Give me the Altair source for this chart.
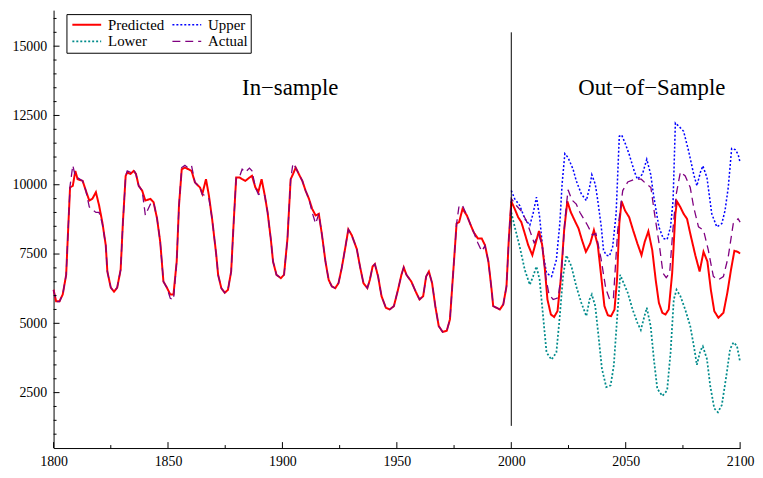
import altair as alt
import pandas as pd

# ---------------- data ----------------
in_years = [1800, 1801.1, 1802.6, 1804, 1805.5, 1806.2, 1807.2, 1808.4, 1809.5, 1810.5,
            1812.7, 1814.1, 1815.6, 1817, 1818.5, 1819.9, 1821.3, 1822.8, 1823.5, 1825,
            1826.4, 1827.8, 1829.3, 1830.3, 1831.5, 1832.2, 1833.6, 1835, 1836, 1837.2,
            1838.7, 1840.1, 1842.3, 1843.7, 1845.2, 1846.6, 1848, 1849.5, 1851, 1852.4,
            1853.8, 1854.8, 1856, 1857.4, 1858.9, 1860.3, 1861.8, 1864, 1865, 1866.6,
            1867.9, 1869.3, 1871.1, 1871.9, 1873.3, 1874.8, 1876.2, 1877.6, 1878.7, 1879.8,
            1881.3, 1882.4, 1883.8, 1885.6, 1886.7, 1888.2, 1889.5, 1890.9, 1892.3, 1893.5,
            1894.9, 1895.9, 1897.4, 1899.3, 1900.7, 1902.2, 1903.6, 1904.6, 1905.8, 1907.2,
            1908.7, 1910.1, 1911.6, 1913, 1914.5, 1915.9, 1917.3, 1918.8, 1920.2, 1921.6,
            1923.1, 1924.5, 1925.9, 1927.4, 1928.8, 1930.3, 1932.5, 1933.9, 1935.4, 1937.1,
            1938.2, 1939.4, 1940.4, 1941.8, 1943.3, 1945.2, 1946.9, 1948.7, 1950.5, 1952,
            1953, 1954.2, 1956.3, 1958.2, 1959.9, 1961.5, 1962.8, 1964, 1965.4, 1966.8,
            1968.3, 1970, 1971.8, 1973.2, 1974.6, 1976.1, 1977.2, 1978.7, 1980.6, 1982,
            1983.5, 1985.4, 1987.1, 1988.5, 1990, 1991.4, 1992.1, 1993.6, 1995, 1996.5,
            1997.9, 1998.9]

in_predicted = [6210, 5800, 5800, 6040, 6750, 8070, 9900, 9960, 10500, 10200,
                10140, 9790, 9430, 9500, 9730, 9250, 8650, 7820, 6870, 6290,
                6140, 6290, 6930, 8650, 10320, 10440, 10390, 10500, 10390, 9960,
                9790, 9430, 9490, 9370, 8790, 7940, 6510, 6290, 6040, 6040,
                7230, 9250, 10560, 10620, 10560, 10500, 10080, 9900, 9670, 10200,
                9600, 8750, 7460, 6750, 6270, 6100, 6210, 6870, 8650, 10260,
                10260, 10200, 10140, 10260, 10320, 9900, 9750, 10200, 9610, 9010,
                8060, 7230, 6750, 6630, 6750, 8060, 10200, 10380, 10620, 10380,
                10140, 9790, 9490, 9130, 8890, 8950, 8180, 7230, 6570, 6330,
                6270, 6450, 6990, 7700, 8390, 8180, 7680, 7050, 6450, 6270,
                6570, 7050, 7140, 6690, 5980, 5560, 5500, 5620, 6210, 6750,
                7020, 6750, 6510, 6150, 5860, 5980, 6690, 6870, 6450, 5620,
                4900, 4690, 4730, 5140, 6810, 8600, 8650, 9130, 8890, 8600,
                8300, 8060, 8060, 7820, 7230, 6210, 5620, 5560, 5500, 5680,
                6330, 8000]

in_actual = [6210, 5780, 5780, 6040, 6750, 8070, 9950, 10700, 10300, 10250,
             10140, 9790, 9200, 9100, 9000, 9000, 8600, 7820, 6870, 6290,
             6140, 6290, 6930, 8650, 10320, 10500, 10450, 10550, 10390, 9960,
             9790, 8900, 9300, 9370, 8790, 7940, 6510, 6290, 5900, 5850,
             7230, 9250, 10620, 10700, 10600, 10680, 10080, 9900, 9650, 9600,
             9500, 8750, 7460, 6750, 6270, 6100, 6210, 6870, 8650, 10260,
             10300, 10560, 10450, 10600, 10500, 9900, 9650, 9700, 9610, 9010,
             8060, 7230, 6750, 6630, 6750, 8060, 10200, 10770, 10620, 10380,
             10140, 9790, 9490, 9000, 8600, 8950, 8180, 7230, 6570, 6330,
             6270, 6450, 6990, 7700, 8390, 8180, 7680, 7050, 6450, 6270,
             6570, 7050, 7140, 6690, 5980, 5560, 5500, 5620, 6210, 6750,
             7020, 6750, 6510, 6150, 5860, 5980, 6690, 6870, 6450, 5620,
             4900, 4690, 4730, 5140, 6810, 8600, 9250, 9250, 8890, 8600,
             8300, 7900, 7600, 7800, 7230, 6210, 5620, 5560, 5500, 5680,
             6330, 8000]

out_pred_years = [2000, 2001.5, 2003, 2004.4, 2005.9, 2007.4, 2009.2, 2010.6, 2012.1, 2013.5,
                  2014.7, 2015.8, 2017.3, 2018.7, 2020.2, 2021.6, 2023.1, 2024.5, 2026, 2027.7,
                  2029.4, 2030.9, 2032.6, 2034.5, 2036.1, 2037.8, 2039.3, 2040.7, 2042.2, 2043.6,
                  2045.1, 2046.2, 2047.2, 2048.2, 2049.7, 2051.5, 2053, 2055.1, 2056.9, 2058.3,
                  2059.9, 2061.6, 2063.1, 2064.5, 2066, 2067.4, 2068.8, 2070.3, 2071.7, 2072.4,
                  2073.9, 2075.3, 2076.8, 2078.2, 2080.4, 2082.3, 2084, 2085.7, 2087.2, 2088.7,
                  2090.5, 2092.7, 2094.4, 2096, 2097.5, 2098.9, 2100]
out_predicted = [9400, 9130, 8830, 8650, 8240, 7820, 7460, 7880, 8330, 7820,
                 6930, 5860, 5320, 5230, 5440, 6570, 8360, 9400, 9010, 8710,
                 8420, 8000, 7580, 7880, 8360, 7820, 6690, 5620, 5290, 5260,
                 5500, 6570, 8600, 9400, 9070, 8830, 8420, 7880, 7460, 7940,
                 8320, 7640, 6570, 5740, 5380, 5320, 5500, 6810, 8950, 9400,
                 9190, 8950, 8770, 8240, 7460, 6870, 7580, 7230, 6210, 5440,
                 5200, 5380, 6100, 6930, 7620, 7580, 7520]

out_act_years = [2000, 2002.2, 2004.4, 2006.6, 2008.3, 2010, 2012, 2013.5, 2015.2, 2016.5,
                 2018.3, 2020.5, 2021.9, 2023.4, 2024.8, 2026.5, 2028.4, 2030, 2031.5, 2033.3,
                 2035.5, 2037, 2039.2, 2041.3, 2043, 2044.6, 2046.5, 2048.7, 2050.9, 2053.9,
                 2056.8, 2058.3, 2061, 2062.6, 2064.8, 2066.3, 2067.7, 2069.2, 2070.6, 2072.1,
                 2073.9, 2076, 2078.2, 2079.7, 2081.8, 2084, 2086.1, 2088.3, 2090.5, 2092.7,
                 2094.8, 2097, 2099.1, 2100]
out_actual = [9500, 9250, 9050, 8700, 8300, 7900, 8200, 7800, 6600, 6040,
              5860, 5920, 6810, 8710, 9820, 9450, 9300, 9000, 8790, 8540,
              8180, 8240, 7340, 6250, 5860, 5880, 8360, 9790, 10100, 10200,
              10200, 10080, 9900, 8950, 7760, 6810, 6650, 6810, 8360, 9670,
              10460, 10320, 9900, 9190, 8480, 8360, 7640, 6690, 6570, 6690,
              7400, 8600, 8770, 8650]

upper_years = [2000, 2001.5, 2003.7, 2005.1, 2005.9, 2008.1, 2009.5, 2011, 2012.4, 2013.9,
               2015.4, 2017.6, 2019.7, 2021.2, 2022.2, 2023.4, 2024.8, 2027, 2028.4, 2030.6,
               2032.8, 2034.2, 2035.2, 2036.7, 2037.8, 2039.3, 2040.3, 2041.5, 2042.9, 2044.3,
               2045.8, 2047.2, 2048.2, 2049.7, 2051.5, 2053.7, 2055.1, 2057.3, 2059.2, 2060.9,
               2062.3, 2064.5, 2066.4, 2068.1, 2069.6, 2070.7, 2071.7, 2073.2, 2075.3, 2077.5,
               2079.7, 2081.1, 2082.6, 2083.7, 2085.5, 2087.6, 2089.8, 2092, 2093.4, 2094.8,
               2096.3, 2097.8, 2099.1, 2100]
upper = [9790, 9490, 9250, 8950, 8770, 8540, 8950, 9550, 8830, 7530,
         6810, 6690, 7290, 8600, 10020, 11120, 10980, 10560, 10140, 9670,
         9430, 9900, 10360, 10020, 9430, 8500, 7640, 7460, 7430, 7760,
         8950, 11750, 11800, 11510, 11100, 10500, 10200, 10380, 10920, 10380,
         9550, 8480, 8060, 8030, 8480, 9430, 12230, 12110, 11930, 11210,
         10380, 9960, 10440, 10680, 10260, 8950, 8480, 8600, 9070, 9900,
         11310, 11270, 11100, 10800]

lower_years = [2000, 2001.5, 2003.7, 2005.9, 2008.1, 2009.5, 2011, 2012.4, 2013.9, 2015.4,
               2017.6, 2019.7, 2021.2, 2022.6, 2024.1, 2026.3, 2028.4, 2030.6, 2032.8, 2034.2,
               2035.2, 2036.7, 2038.1, 2039.6, 2041.5, 2043.4, 2044.8, 2046.2, 2047.6, 2049.1,
               2050.9, 2053, 2055.1, 2056.6, 2058, 2059.2, 2060.9, 2062.3, 2063.8, 2066,
               2068.1, 2069.6, 2071, 2072.2, 2073.9, 2076, 2078.2, 2080, 2081.1, 2082.6,
               2083.7, 2085.5, 2086.9, 2088.7, 2090.3, 2092, 2094, 2095.6, 2097.1, 2098.6,
               2100]
lower = [9000, 8480, 7760, 6930, 6390, 6690, 7050, 6570, 5260, 3950,
         3690, 3950, 5260, 6690, 7450, 7050, 6330, 5740, 5260, 5860,
         6040, 5620, 4550, 3360, 2700, 2760, 3480, 5140, 6750, 6450,
         6100, 5500, 5020, 4760, 5200, 5560, 4900, 3710, 2640, 2380,
         2580, 3950, 5860, 6210, 5980, 5500, 4900, 4070, 3500, 4010,
         4170, 3710, 2760, 1930, 1790, 2050, 3120, 4070, 4310, 4190,
         3600]

# legend is laid out column by column: Predicted/Lower in column 1, Upper/Actual in column 2
series_names = ["Predicted", "Lower", "Upper", "Actual"]
series_colors = ["#FF0000", "#008B8B", "#0000FF", "#800080"]
series_dash = [[1, 0], [2, 2], [2, 2], [8, 5]]
series_width = [2, 1.3, 1.3, 2.4]
draw_order = ["Lower", "Upper", "Predicted", "Actual"]

x_ticks_major = [1800, 1850, 1900, 1950, 2000, 2050, 2100]
x_ticks_minor = [1825, 1875, 1925, 1975, 2025, 2075]
y_ticks_major = [2500, 5000, 7500, 10000, 12500, 15000]
y_ticks_minor = [v for v in range(1000, 16500, 500) if v % 2500 != 0]

annotations = pd.DataFrame({
    "year": [1903.4, 2061.4],
    "value": [13480, 13480],
    "label": ["In\u2212sample", "Out\u2212of\u2212Sample"],
})
divider = pd.DataFrame({"year": [2000], "lo": [1300], "hi": [15500]})

# ---------------- long table ----------------
rows = []
def add(name, xs, ys):
    for x, y in zip(xs, ys):
        rows.append({"year": x, "value": y, "series": name})

add("Lower", lower_years, lower)
add("Upper", upper_years, upper)
add("Predicted", in_years + out_pred_years, in_predicted + out_predicted)
add("Actual", in_years + out_act_years, in_actual + out_actual)
df = pd.DataFrame(rows)

FONT = "Liberation Serif"
W, H = 693, 442
xscale = alt.Scale(domain=[1800, 2100], nice=False, zero=False)
yscale = alt.Scale(domain=[500, 16300], nice=False, zero=False)

xaxis = alt.Axis(title=None, values=x_ticks_major, format="d", grid=False,
                 ticks=False, tickSize=0, labelPadding=7, labelFlush=False,
                 labelFont=FONT, labelFontSize=14, labelColor="black",
                 domainColor="black", domainWidth=1)
yaxis = alt.Axis(title=None, values=y_ticks_major, format="d", grid=False,
                 ticks=False, tickSize=0, labelPadding=7, labelFlush=False,
                 labelFont=FONT, labelFontSize=14, labelColor="black",
                 domainColor="black", domainWidth=1)

legend = alt.Legend(
    title=None, orient="none", legendX=13, legendY=4, columns=2,
    symbolType="M-3,0L3,0", symbolSize=94, symbolStrokeWidth=1.6,
    symbolOffset=10, labelOffset=14,
    labelFont=FONT, labelFontSize=15, labelColor="black",
    strokeColor="black", fillColor="white", padding=3,
    columnPadding=4, rowPadding=1,
)

color_enc = alt.Color("series:N", scale=alt.Scale(domain=series_names, range=series_colors),
                      legend=legend)
dash_enc = alt.StrokeDash("series:N", scale=alt.Scale(domain=series_names, range=series_dash),
                          legend=legend)
width_enc = alt.StrokeWidth("series:N",
                            scale=alt.Scale(domain=series_names, range=series_width),
                            legend=None)

line_layers = []
for name in draw_order:
    line_layers.append(
        alt.Chart(df).transform_filter(alt.datum.series == name).mark_line().encode(
            x=alt.X("year:Q", scale=xscale, axis=xaxis),
            y=alt.Y("value:Q", scale=yscale, axis=yaxis),
            color=color_enc,
            strokeDash=dash_enc,
            strokeWidth=width_enc,
        )
    )

rule = alt.Chart(divider).mark_rule(color="black", strokeWidth=1).encode(
    x=alt.X("year:Q", scale=xscale, axis=xaxis),
    y=alt.Y("lo:Q", scale=yscale, axis=yaxis),
    y2="hi:Q",
)

texts = alt.Chart(annotations).mark_text(
    font=FONT, fontSize=23, color="black", baseline="middle", align="center"
).encode(
    x=alt.X("year:Q", scale=xscale, axis=xaxis),
    y=alt.Y("value:Q", scale=yscale, axis=yaxis),
    text="label:N",
)

def xtick_layer(vals, length):
    return alt.Chart(pd.DataFrame({"year": vals})).mark_rule(color="black", strokeWidth=1).encode(
        x=alt.X("year:Q", scale=xscale, axis=xaxis),
        y=alt.value(H), y2=alt.value(H - length),
    )

def ytick_layer(vals, length):
    return alt.Chart(pd.DataFrame({"value": vals})).mark_rule(color="black", strokeWidth=1).encode(
        y=alt.Y("value:Q", scale=yscale, axis=yaxis),
        x=alt.value(0), x2=alt.value(length),
    )

chart = alt.layer(
    *line_layers, rule, texts,
    xtick_layer(x_ticks_major, 6), xtick_layer(x_ticks_minor, 3),
    ytick_layer(y_ticks_major, 6), ytick_layer(y_ticks_minor, 3),
).properties(
    width=W, height=H,
    background="white",
    autosize=alt.AutoSizeParams(type="none"),
    padding={"left": 46, "top": 0, "right": 15, "bottom": 20},
).configure_view(stroke=None)

chart.save("out.html", embed_options={"renderer": "svg", "actions": False})
